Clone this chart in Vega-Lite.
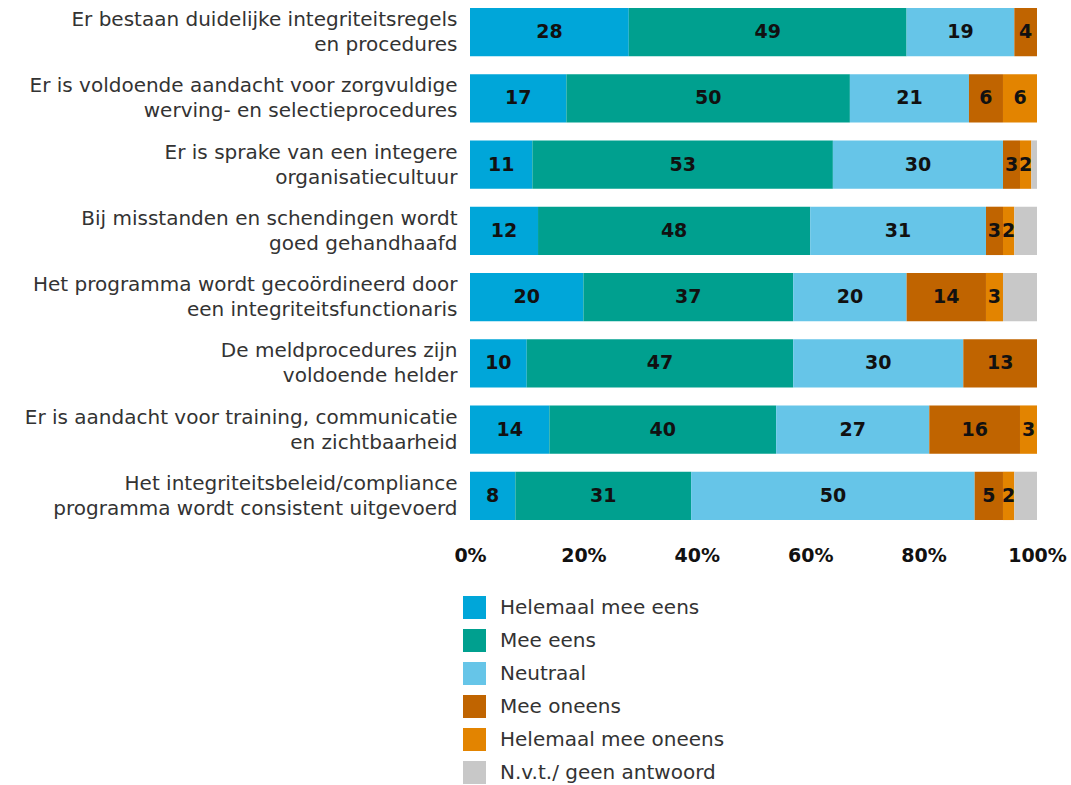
{
  "$schema": "https://vega.github.io/schema/vega-lite/v6.json",
  "autosize": "none",
  "width": 567,
  "height": 528,
  "padding": {"left": 470, "top": 0, "right": 34, "bottom": 257},
  "background": "white",
  "config": {"view": {"stroke": null}, "font": "DejaVu Sans"},
  "data": {"values": [
    {"q": "Er bestaan duidelijke integriteitsregels|en procedures", "c": "Helemaal mee eens", "k": 1, "v": 28},
    {"q": "Er bestaan duidelijke integriteitsregels|en procedures", "c": "Mee eens", "k": 2, "v": 49},
    {"q": "Er bestaan duidelijke integriteitsregels|en procedures", "c": "Neutraal", "k": 3, "v": 19},
    {"q": "Er bestaan duidelijke integriteitsregels|en procedures", "c": "Mee oneens", "k": 4, "v": 4},
    {"q": "Er is voldoende aandacht voor zorgvuldige|werving- en selectieprocedures", "c": "Helemaal mee eens", "k": 1, "v": 17},
    {"q": "Er is voldoende aandacht voor zorgvuldige|werving- en selectieprocedures", "c": "Mee eens", "k": 2, "v": 50},
    {"q": "Er is voldoende aandacht voor zorgvuldige|werving- en selectieprocedures", "c": "Neutraal", "k": 3, "v": 21},
    {"q": "Er is voldoende aandacht voor zorgvuldige|werving- en selectieprocedures", "c": "Mee oneens", "k": 4, "v": 6},
    {"q": "Er is voldoende aandacht voor zorgvuldige|werving- en selectieprocedures", "c": "Helemaal mee oneens", "k": 5, "v": 6},
    {"q": "Er is sprake van een integere|organisatiecultuur", "c": "Helemaal mee eens", "k": 1, "v": 11},
    {"q": "Er is sprake van een integere|organisatiecultuur", "c": "Mee eens", "k": 2, "v": 53},
    {"q": "Er is sprake van een integere|organisatiecultuur", "c": "Neutraal", "k": 3, "v": 30},
    {"q": "Er is sprake van een integere|organisatiecultuur", "c": "Mee oneens", "k": 4, "v": 3},
    {"q": "Er is sprake van een integere|organisatiecultuur", "c": "Helemaal mee oneens", "k": 5, "v": 2},
    {"q": "Er is sprake van een integere|organisatiecultuur", "c": "N.v.t./ geen antwoord", "k": 6, "v": 1},
    {"q": "Bij misstanden en schendingen wordt|goed gehandhaafd", "c": "Helemaal mee eens", "k": 1, "v": 12},
    {"q": "Bij misstanden en schendingen wordt|goed gehandhaafd", "c": "Mee eens", "k": 2, "v": 48},
    {"q": "Bij misstanden en schendingen wordt|goed gehandhaafd", "c": "Neutraal", "k": 3, "v": 31},
    {"q": "Bij misstanden en schendingen wordt|goed gehandhaafd", "c": "Mee oneens", "k": 4, "v": 3},
    {"q": "Bij misstanden en schendingen wordt|goed gehandhaafd", "c": "Helemaal mee oneens", "k": 5, "v": 2},
    {"q": "Bij misstanden en schendingen wordt|goed gehandhaafd", "c": "N.v.t./ geen antwoord", "k": 6, "v": 4},
    {"q": "Het programma wordt gecoördineerd door|een integriteitsfunctionaris", "c": "Helemaal mee eens", "k": 1, "v": 20},
    {"q": "Het programma wordt gecoördineerd door|een integriteitsfunctionaris", "c": "Mee eens", "k": 2, "v": 37},
    {"q": "Het programma wordt gecoördineerd door|een integriteitsfunctionaris", "c": "Neutraal", "k": 3, "v": 20},
    {"q": "Het programma wordt gecoördineerd door|een integriteitsfunctionaris", "c": "Mee oneens", "k": 4, "v": 14},
    {"q": "Het programma wordt gecoördineerd door|een integriteitsfunctionaris", "c": "Helemaal mee oneens", "k": 5, "v": 3},
    {"q": "Het programma wordt gecoördineerd door|een integriteitsfunctionaris", "c": "N.v.t./ geen antwoord", "k": 6, "v": 6},
    {"q": "De meldprocedures zijn|voldoende helder", "c": "Helemaal mee eens", "k": 1, "v": 10},
    {"q": "De meldprocedures zijn|voldoende helder", "c": "Mee eens", "k": 2, "v": 47},
    {"q": "De meldprocedures zijn|voldoende helder", "c": "Neutraal", "k": 3, "v": 30},
    {"q": "De meldprocedures zijn|voldoende helder", "c": "Mee oneens", "k": 4, "v": 13},
    {"q": "Er is aandacht voor training, communicatie|en zichtbaarheid", "c": "Helemaal mee eens", "k": 1, "v": 14},
    {"q": "Er is aandacht voor training, communicatie|en zichtbaarheid", "c": "Mee eens", "k": 2, "v": 40},
    {"q": "Er is aandacht voor training, communicatie|en zichtbaarheid", "c": "Neutraal", "k": 3, "v": 27},
    {"q": "Er is aandacht voor training, communicatie|en zichtbaarheid", "c": "Mee oneens", "k": 4, "v": 16},
    {"q": "Er is aandacht voor training, communicatie|en zichtbaarheid", "c": "Helemaal mee oneens", "k": 5, "v": 3},
    {"q": "Het integriteitsbeleid/compliance|programma wordt consistent uitgevoerd", "c": "Helemaal mee eens", "k": 1, "v": 8},
    {"q": "Het integriteitsbeleid/compliance|programma wordt consistent uitgevoerd", "c": "Mee eens", "k": 2, "v": 31},
    {"q": "Het integriteitsbeleid/compliance|programma wordt consistent uitgevoerd", "c": "Neutraal", "k": 3, "v": 50},
    {"q": "Het integriteitsbeleid/compliance|programma wordt consistent uitgevoerd", "c": "Mee oneens", "k": 4, "v": 5},
    {"q": "Het integriteitsbeleid/compliance|programma wordt consistent uitgevoerd", "c": "Helemaal mee oneens", "k": 5, "v": 2},
    {"q": "Het integriteitsbeleid/compliance|programma wordt consistent uitgevoerd", "c": "N.v.t./ geen antwoord", "k": 6, "v": 4}
  ]},
  "encoding": {
    "y": {
      "field": "q", "type": "nominal", "sort": null, "title": null,
      "scale": {"paddingInner": 0.27, "paddingOuter": 0.12},
      "axis": {"domain": false, "ticks": false, "labelFontSize": 20, "labelColor": "#333333", "labelPadding": 13, "labelLimit": 480, "labelLineHeight": 25, "labelOffset": -12, "labelExpr": "split(datum.label, '|')"}
    },
    "x": {
      "field": "v", "type": "quantitative", "stack": "zero", "title": null,
      "scale": {"domain": [0, 100], "nice": false},
      "axis": {"domain": false, "ticks": false, "grid": false, "values": [0, 20, 40, 60, 80, 100], "labelExpr": "datum.value + '%'", "labelFontSize": 19, "labelFontWeight": 600, "labelColor": "#111111", "labelPadding": 18, "labelFlush": false,
        "encode": {"labels": {"update": {"dx": {"signal": "datum.value == 100 ? 0 : 8"}}}}}
    },
    "order": {"field": "k", "type": "quantitative"}
  },
  "layer": [
    {
      "mark": {"type": "bar"},
      "encoding": {
        "color": {
          "field": "c", "type": "nominal", "title": null,
          "sort": ["Helemaal mee eens", "Mee eens", "Neutraal", "Mee oneens", "Helemaal mee oneens", "N.v.t./ geen antwoord"],
          "scale": {"domain": ["Helemaal mee eens", "Mee eens", "Neutraal", "Mee oneens", "Helemaal mee oneens", "N.v.t./ geen antwoord"], "range": ["#00a6d9", "#00a08f", "#66c5e8", "#c06400", "#e38400", "#c8c8c8"]},
          "legend": {"orient": "none", "legendX": -7, "legendY": 596, "direction": "vertical", "symbolType": "square", "symbolSize": 529, "symbolStrokeWidth": 0, "symbolOpacity": 1, "labelFontSize": 20, "labelColor": "#333333", "labelOffset": 14, "rowPadding": 10, "labelLimit": 400}
        }
      }
    },
    {
      "transform": [{"filter": "datum.k < 6"}],
      "mark": {"type": "text", "fontSize": 19, "fontWeight": "bold", "color": "#111111", "baseline": "middle"},
      "encoding": {
        "x": {"field": "v", "type": "quantitative", "stack": "zero", "bandPosition": 0.5},
        "text": {"field": "v", "type": "quantitative"}
      }
    }
  ]
}
